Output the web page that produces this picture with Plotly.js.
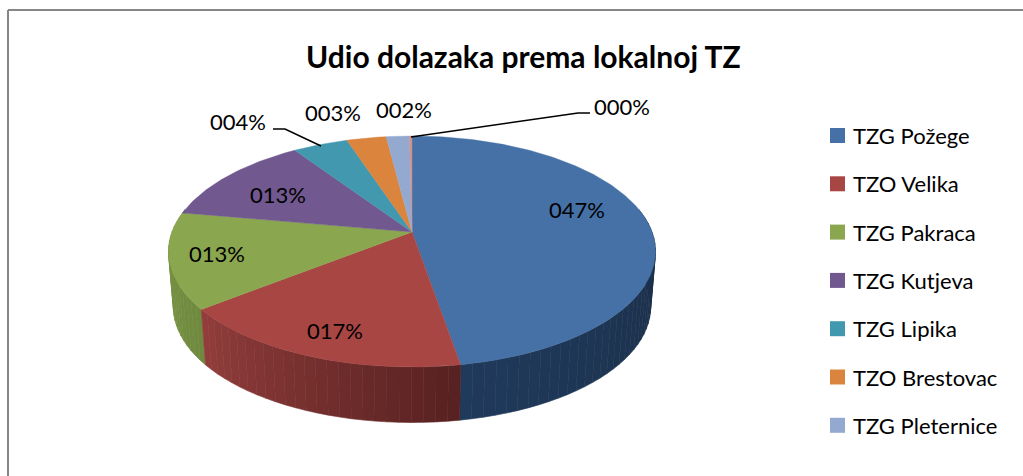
<!DOCTYPE html>
<html><head><meta charset="utf-8">
<script src="https://cdn.plot.ly/plotly-3.0.1.min.js"></script>
<style>html,body{margin:0;padding:0;background:#fff}#c{width:1023px;height:476px}</style>
</head><body><div id="c"></div>
<script>
const chartTitle = "Udio dolazaka prema lokalnoj TZ";
const categories = ["TZG Požege","TZO Velika","TZG Pakraca","TZG Kutjeva","TZG Lipika","TZO Brestovac","TZG Pleternice","Ostalo"];
const shares = [47.3,17.1,13.4,12.8,4.3,3.1,1.8,0.2];
const legendEntries = categories.slice(0,7);
const topColors = ["#4571a6","#a84644","#8aa64f","#71588f","#4198af","#db843d","#93a9cf","#d1928f"];
const wallFrom = ["#1a2c44","#562120","#6f8a3e","#4a3a5e","#2b6373","#8f5628","#606f88","#886060"];
const wallTo   = ["#203a5c","#933e3c","#7d9847","#4a3a5e","#2b6373","#8f5628","#606f88","#886060"];

/* projection of the tilted disc, in chart pixels (axes are 1:1 with the page) */
const AX=412, AY=232, A=240, B=112.2, P=0.1688, WALL=55.5, SHRINK=0.98;
function proj(deg){const t=deg*Math.PI/180,u=Math.sin(t),v=-Math.cos(t),w=1-P*v;
  return [AX+A*u/w, AY+B*v/w, v];}
function low(deg){const p=proj(deg);return [AX+(p[0]-AX)*SHRINK,p[1]+WALL];}
function hex(c){return [1,3,5].map(i=>parseInt(c.substr(i,2),16));}
function mix(a,b,t){const x=hex(a),y=hex(b);return "rgb("+x.map((q,i)=>Math.round(q+(y[i]-q)*t)).join(",")+")";}

const total=shares.reduce((a,b)=>a+b,0);
let cum=0; const spans=shares.map(s=>{const a=cum/total*360;cum+=s;return [a,cum/total*360];});

const traces=[];
/* side wall strips, back to front */
const strips=[];
spans.forEach((sp,i)=>{
  const lo=Math.max(sp[0],78), hi=Math.min(sp[1],282);
  if(hi<=lo) return;
  const n=Math.max(1,Math.ceil((hi-lo)/2.5));
  for(let k=0;k<n;k++){
    const a=lo+(hi-lo)*k/n,b=lo+(hi-lo)*(k+1)/n;
    strips.push({a,b,c:mix(wallFrom[i],wallTo[i],(k+.5)/n),o:Math.abs((a+b)/2-180)});
  }
});
strips.sort((p,q)=>q.o-p.o);
strips.forEach(s=>{
  const p=proj(s.a),q=proj(s.b),r=low(s.b),t=low(s.a);
  traces.push({type:"scatter",mode:"lines",x:[p[0],q[0],r[0],t[0],p[0]],y:[p[1],q[1],r[1],t[1],p[1]],
    fill:"toself",fillcolor:s.c,line:{color:s.c,width:0.6},hoverinfo:"skip",showlegend:false});
});
/* top surface */
spans.forEach((sp,i)=>{
  const xs=[AX],ys=[AY];
  const n=Math.max(2,Math.ceil(sp[1]-sp[0]));
  for(let k=0;k<=n;k++){const p=proj(sp[0]+(sp[1]-sp[0])*k/n);xs.push(p[0]);ys.push(p[1]);}
  xs.push(AX);ys.push(AY);
  traces.push({type:"scatter",mode:"lines",name:categories[i],x:xs,y:ys,fill:"toself",fillcolor:topColors[i],
    line:{color:topColors[i],width:0.4},hoverinfo:"name",showlegend:false});
});
/* leader lines */
[[[273,285,321],[129,129,146]],[[590,578,411],[113,113,137]]].forEach(l=>{
  traces.push({type:"scatter",mode:"lines",x:l[0],y:l[1],line:{color:"#000",width:1.5},hoverinfo:"skip",showlegend:false});
});

const F="Lato, Carlito, sans-serif";
const labelPos=[[577,209],[335,330],[217,253],[278,194],[238,121],[333,112],[404,109],[622,106]];
const annotations=shares.map((s,i)=>({xref:"x",yref:"y",x:labelPos[i][0],y:labelPos[i][1],showarrow:false,
  text:String(Math.round(s)).padStart(3,"0")+"%",font:{family:F,size:22,color:"#000"},xanchor:"center",yanchor:"middle"}));
annotations.push({xref:"x",yref:"y",x:523,y:56,showarrow:false,text:"<b>"+chartTitle+"</b>",
  font:{family:F,size:30,color:"#000"},xanchor:"center",yanchor:"middle"});
const shapes=[
 {type:"line",xref:"x",yref:"y",x0:8,x1:8,y0:10,y1:476,line:{color:"#868686",width:2}},
 {type:"line",xref:"x",yref:"y",x0:8,x1:1023,y0:10,y1:10,line:{color:"#868686",width:2}}
];
legendEntries.forEach((t,i)=>{
  const yc=135.5+i*48.3;
  shapes.push({type:"rect",xref:"x",yref:"y",x0:830,x1:845,y0:yc-7.5,y1:yc+7.5,fillcolor:topColors[i],line:{width:0}});
  annotations.push({xref:"x",yref:"y",x:851,y:yc,showarrow:false,text:t,font:{family:F,size:22,color:"#000"},xanchor:"left",yanchor:"middle"});
});
Plotly.newPlot("c",traces,{
  width:1023,height:476,margin:{l:0,r:0,t:0,b:0},paper_bgcolor:"#fff",plot_bgcolor:"#fff",showlegend:false,
  xaxis:{range:[0,1023],visible:false,fixedrange:true},
  yaxis:{range:[476,0],visible:false,fixedrange:true},
  annotations,shapes
},{displayModeBar:false});
</script></body></html>
